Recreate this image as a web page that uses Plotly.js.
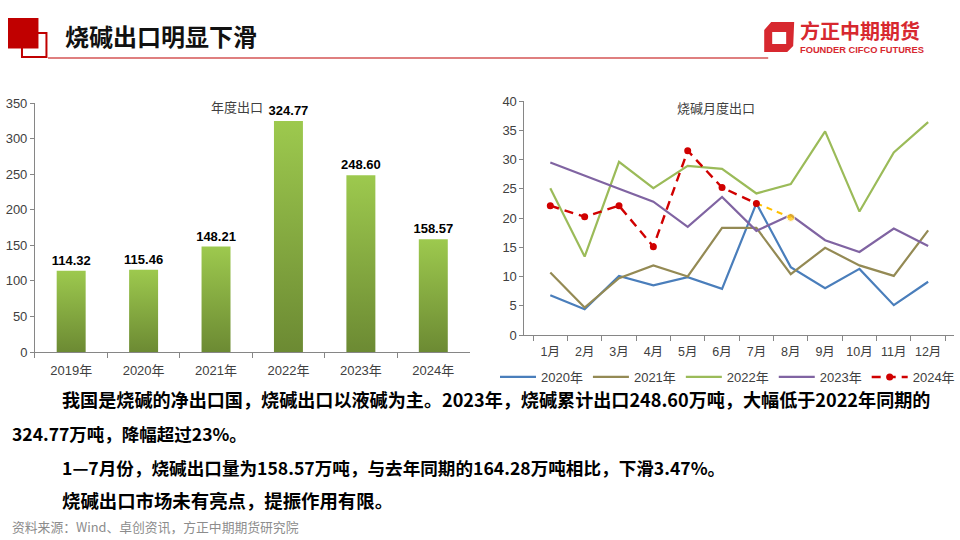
<!DOCTYPE html>
<html>
<head>
<meta charset="utf-8">
<script src="https://cdn.plot.ly/plotly-3.0.1.min.js"></script>
<style>
html,body{margin:0;padding:0;background:#fff;}
#chart{width:960px;height:540px;}
</style>
</head>
<body>
<div id="chart"></div>
<script>
// ---- data ----
const years = ['2019年','2020年','2021年','2022年','2023年','2024年'];
const annualExport = [114.32, 115.46, 148.21, 324.77, 248.60, 158.57];

const months = ['1月','2月','3月','4月','5月','6月','7月','8月','9月','10月','11月','12月'];
const exp2020 = [6.8, 4.4, 10.1, 8.5, 9.9, 7.9, 22.5, 11.6, 8.0, 11.3, 5.1, 9.1];
const exp2021 = [10.7, 4.7, 9.7, 11.9, 10.0, 18.3, 18.3, 10.4, 14.9, 11.9, 10.1, 17.9];
const exp2022 = [25.1, 13.4, 29.6, 25.1, 28.9, 28.4, 24.2, 25.8, 34.8, 21.1, 31.2, 36.4];
const exp2023 = [29.5, 27.2, 25.0, 22.8, 18.5, 23.6, 17.8, 20.5, 16.2, 14.2, 18.2, 15.2];
const exp2024 = [22.1, 20.2, 22.1, 15.1, 31.5, 25.2, 22.5, null, null, null, null, null];
const est2024 = [null, null, null, null, null, null, 22.5, 20.1, null, null, null, null];
const seriesNames = ['2020年','2021年','2022年','2023年','2024年'];

// ---- helpers ----
const W = 960, H = 540;
const px = x => x / W;
const py = y => 1 - y / H;
const RED = '#C00000';
const FONT = 'Liberation Sans, Noto Sans CJK SC, sans-serif';
const CJK = 'Noto Sans CJK SC, sans-serif';

function ann(text, x, y, size, opts) {
  return Object.assign({
    text: text, xref: 'paper', yref: 'paper', x: px(x), y: py(y),
    xanchor: 'left', yanchor: 'middle', showarrow: false,
    font: {family: CJK, size: size, color: '#000'}
  }, opts || {});
}

const traces = [
  {
    type: 'bar', x: years, y: annualExport, xaxis: 'x', yaxis: 'y',
    marker: {color: '#86AD42', line: {width: 0}},
    width: 0.4,
    texttemplate: '%{y:.2f}', textposition: 'outside', cliponaxis: false,
    constraintext: 'none',
    textfont: {family: FONT, size: 13, color: '#000', weight: 700},
    showlegend: false, hoverinfo: 'skip'
  },
  {type: 'scatter', mode: 'lines', name: seriesNames[0], x: months, y: exp2020, xaxis: 'x2', yaxis: 'y2',
   line: {color: '#4A7EBB', width: 2.2}},
  {type: 'scatter', mode: 'lines', name: seriesNames[1], x: months, y: exp2021, xaxis: 'x2', yaxis: 'y2',
   line: {color: '#948A54', width: 2.2}},
  {type: 'scatter', mode: 'lines', name: seriesNames[2], x: months, y: exp2022, xaxis: 'x2', yaxis: 'y2',
   line: {color: '#9BBB59', width: 2.2}},
  {type: 'scatter', mode: 'lines', name: seriesNames[3], x: months, y: exp2023, xaxis: 'x2', yaxis: 'y2',
   line: {color: '#8064A2', width: 2.2}},
  {type: 'scatter', mode: 'lines+markers', name: '', x: months, y: est2024, xaxis: 'x2', yaxis: 'y2',
   line: {color: '#FFC000', width: 2, dash: '6px,5px'},
   marker: {color: '#FFC000', size: [0,0,0,0,0,0,0,8,0,0,0,0]},
   showlegend: false, connectgaps: false},
  {type: 'scatter', mode: 'lines+markers', name: seriesNames[4], x: months, y: exp2024, xaxis: 'x2', yaxis: 'y2',
   line: {color: '#D00000', width: 2.4, dash: '9px,6px'},
   marker: {color: '#D00000', size: 7}}
];

const axisCommon = {
  showline: true, linecolor: '#868686', linewidth: 1,
  showgrid: false, zeroline: false,
  ticks: 'outside', tickcolor: '#868686', ticklen: 5,
  tickfont: {family: FONT, size: 13, color: '#404040'},
  tickangle: 0,
  fixedrange: true
};

const layout = {
  width: W, height: H,
  margin: {l: 0, r: 0, t: 0, b: 0},
  paper_bgcolor: '#fff', plot_bgcolor: 'rgba(0,0,0,0)',
  showlegend: true,
  legend: {
    orientation: 'h', x: px(728), y: py(377), xanchor: 'center', yanchor: 'middle',
    font: {family: FONT, size: 13, color: '#404040'},
    bgcolor: 'rgba(0,0,0,0)', itemwidth: 36, tracegroupgap: 0
  },
  xaxis: Object.assign({}, axisCommon, {
    domain: [px(35), px(470)], anchor: 'y', type: 'category', tickson: 'boundaries', ticklen: 5,
    ticklabelstandoff: 6
  }),
  yaxis: Object.assign({}, axisCommon, {
    domain: [py(352), py(103)], anchor: 'x', range: [0, 350], dtick: 50, ticklen: 4
  }),
  xaxis2: Object.assign({}, axisCommon, {
    domain: [px(525), px(955)], anchor: 'y2', type: 'category', tickson: 'boundaries', ticklen: 5,
    ticklabelstandoff: 5,
    tickfont: {family: FONT, size: 12.5, color: '#404040'}
  }),
  yaxis2: Object.assign({}, axisCommon, {
    domain: [py(335), py(101)], anchor: 'x2', range: [0, 40], dtick: 5, ticklen: 4
  }),
  shapes: [
    // header decoration
    {type: 'rect', xref: 'paper', yref: 'paper', x0: px(22), x1: px(46.5), y0: py(33), y1: py(57),
     line: {color: RED, width: 2}, fillcolor: 'rgba(0,0,0,0)'},
    {type: 'rect', xref: 'paper', yref: 'paper', x0: px(8), x1: px(38.5), y0: py(18), y1: py(48.5),
     line: {width: 0}, fillcolor: RED},
    {type: 'line', xref: 'paper', yref: 'paper', x0: px(48), x1: px(769), y0: py(58), y1: py(58),
     line: {color: RED, width: 1.2}},
    // logo mark
    {type: 'path', xref: 'paper', yref: 'paper', line: {width: 0}, fillcolor: '#D7282F',
     path: 'M' + px(772) + ',' + py(22) + ' L' + px(795) + ',' + py(22) + ' L' + px(794) + ',' + py(46) +
           ' L' + px(788) + ',' + py(52) + ' L' + px(765) + ',' + py(52) + ' L' + px(765) + ',' + py(30) + ' Z' +
           ' M' + px(773) + ',' + py(32) + ' L' + px(773) + ',' + py(44) + ' L' + px(787) + ',' + py(44) +
           ' L' + px(787) + ',' + py(32) + ' Z'}
  ],
  annotations: [
    ann('<b>烧碱出口明显下滑</b>', 63, 36, 24, {font: {family: CJK, size: 24, color: '#111'}}),
    ann('<b>方正中期期货</b>', 799, 30, 20, {font: {family: CJK, size: 20, color: '#D7282F'}}),
    ann('<b>FOUNDER CIFCO FUTURES</b>', 799, 50, 9, {font: {family: FONT, size: 9.3, color: '#D7282F'}}),
    ann('年度出口', 237, 106, 13, {xanchor: 'center', font: {family: CJK, size: 13, color: '#404040'}}),
    ann('烧碱月度出口', 717, 107, 13, {xanchor: 'center', font: {family: CJK, size: 13, color: '#404040'}}),
    ann('<b>我国是烧碱的净出口国，烧碱出口以液碱为主。2023年，烧碱累计出口248.60万吨，大幅低于2022年同期的</b>', 60, 399, 18.1),
    ann('<b>324.77万吨，降幅超过23%。</b>', 10, 433, 17.5),
    ann('<b>1—7月份，烧碱出口量为158.57万吨，与去年同期的164.28万吨相比，下滑3.47%。</b>', 60, 467, 17.6),
    ann('<b>烧碱出口市场未有亮点，提振作用有限。</b>', 60, 500, 18.4),
    ann('资料来源：Wind、卓创资讯，方正中期期货研究院', 10, 526, 12.8, {font: {family: CJK, size: 12.8, color: '#8C8C8C'}})
  ]
};

Plotly.newPlot('chart', traces, layout, {displayModeBar: false, staticPlot: true}).then(function (gd) {
  // vertical gradient fill for the annual bars
  const svg = gd.querySelector('.main-svg');
  const ns = 'http://www.w3.org/2000/svg';
  let defs = svg.querySelector('defs');
  if (!defs) { defs = document.createElementNS(ns, 'defs'); svg.insertBefore(defs, svg.firstChild); }
  const grad = document.createElementNS(ns, 'linearGradient');
  grad.setAttribute('id', 'barGrad');
  grad.setAttribute('x1', '0'); grad.setAttribute('y1', '0');
  grad.setAttribute('x2', '0'); grad.setAttribute('y2', '1');
  [['0', '#9DC94E'], ['1', '#6C8A33']].forEach(function (s) {
    const st = document.createElementNS(ns, 'stop');
    st.setAttribute('offset', s[0]); st.setAttribute('stop-color', s[1]);
    grad.appendChild(st);
  });
  defs.appendChild(grad);
  gd.querySelectorAll('.barlayer .point path').forEach(function (p) {
    p.style.fill = 'url(#barGrad)';
  });
});
</script>
</body>
</html>
